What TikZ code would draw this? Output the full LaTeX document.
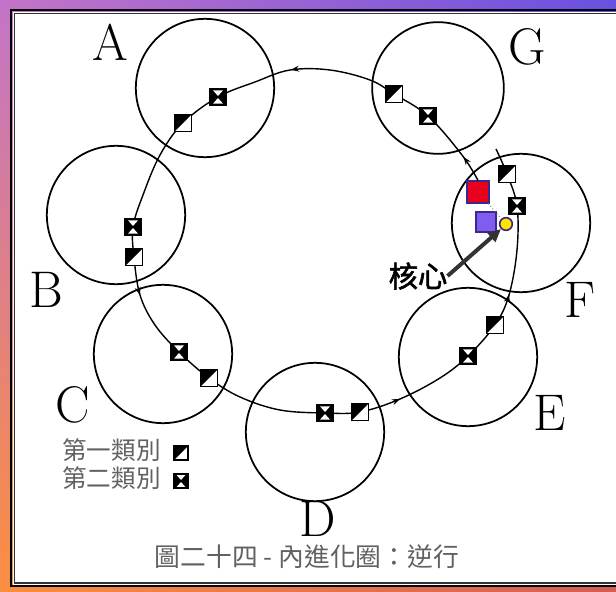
\documentclass[tikz,border=0pt]{standalone}
\usepackage{fontspec}
\newfontfamily\cjk[AutoFakeBold=2]{Noto Sans CJK TC}
\usetikzlibrary{arrows.meta, positioning, calc, decorations.markings, shadings}

\definecolor{bgul}{RGB}{196,116,200}
\definecolor{bgur}{RGB}{104,80,226}
\definecolor{bgll}{RGB}{252,142,64}
\definecolor{bglr}{RGB}{214,92,84}
\definecolor{corered}{RGB}{232,0,28}
\definecolor{coreblue}{RGB}{128,92,240}
\definecolor{coreyellow}{RGB}{255,230,0}
\definecolor{coreedge}{RGB}{60,40,140}

\tikzset{
  ring/.style={circle, draw, line width=1.5pt, minimum size=4.15cm, inner sep=0pt},
  letter/.style={font=\fontsize{44}{44}\selectfont, inner sep=0pt},
  sq/.style={draw, line width=1.3pt, minimum size=0.52cm, inner sep=0pt},
  firstcls/.style={sq, fill=white, path picture={
      \fill[black] (path picture bounding box.north west) -- (path picture bounding box.north east)
        -- (path picture bounding box.south west) -- cycle;}},
  secondcls/.style={sq, fill=black, path picture={
      \fill[white] ([shift={(-0.15cm,0.2cm)}]path picture bounding box.center) -- ++(0.3cm,0) -- ++(-0.15cm,-0.17cm) -- cycle;
      \fill[white] ([shift={(-0.15cm,-0.2cm)}]path picture bounding box.center) -- ++(0.3cm,0) -- ++(-0.15cm,0.17cm) -- cycle;}},
  route/.style={line width=1.2pt},
  looptips/.style={postaction={decorate}, decoration={markings,
      mark=at position 0.024 with {\arrow{Stealth[length=7pt,width=5pt]}},
      mark=at position 0.2 with {\arrow{Stealth[length=7pt,width=5pt]}},
      mark=at position 0.466 with {\arrow{Stealth[length=7pt,width=5pt]}},
      mark=at position 0.735 with {\arrow{Stealth[length=7pt,width=5pt]}},
      mark=at position 0.87 with {\arrow{Stealth[length=7pt,width=5pt]}}}},
  cjktext/.style={font=\cjk\fontsize{21}{21}\selectfont, text=black!62, inner sep=0pt}
}

\begin{document}
\begin{tikzpicture}[x=0.03cm, y=-0.03cm]
  \useasboundingbox (0,0) rectangle (616,592);
  % background and frame
  \shade[upper left=bgul, upper right=bgur, lower left=bgll, lower right=bglr] (0,0) rectangle (616,592);
  \fill[white] (13,12) rectangle (616,585);
  \draw[line width=1.8pt] (616,10) -- (11,10) -- (11,586) -- (616,586);
  \draw[line width=1pt, black!80] (616,13.5) -- (14.5,13.5) -- (14.5,583) -- (616,583);

  % the seven circles
  \node[ring] (ringA) at (205,88) {};
  \node[ring, minimum size=3.95cm] (ringG) at (438,88) {};
  \node[ring] (ringB) at (116,215) {};
  \node[ring] (ringF) at (521,223) {};
  \node[ring] (ringC) at (163,354) {};
  \node[ring] (ringE) at (468,357) {};
  \node[ring] (ringD) at (315,432) {};

  \node[letter] (labA) at (110,42) {A};
  \node[letter] (labG) at (527,47) {G};
  \node[letter] (labB) at (46,290) {B};
  \node[letter] (labF) at (580,300) {F};
  \node[letter] (labC) at (73,405) {C};
  \node[letter] (labE) at (550,413) {E};
  \node[letter] (labD) at (318,519) {D};

  % core
  \node[draw=coreedge, fill=corered, line width=1.6pt, minimum size=0.64cm, inner sep=0pt] (red) at (478,192) {};
  \node[draw=coreedge, fill=coreblue, line width=1.6pt, minimum size=0.6cm, inner sep=0pt] (blue) at (486,222) {};
  \node[circle, draw=coreedge, fill=coreyellow, line width=1.4pt, minimum size=0.38cm, inner sep=0pt] (dot) at (506,224) {};

  % route
  \coordinate (g2) at (428,116);  \coordinate (g1) at (394,94);
  \coordinate (a2) at (218,97);   \coordinate (a1) at (183,123);
  \coordinate (b2) at (133,227);  \coordinate (b1) at (134,257);
  \coordinate (c2) at (179,352);  \coordinate (c1) at (209,378);
  \coordinate (d2) at (325,413);  \coordinate (d1) at (360,412);
  \coordinate (e2) at (468,356);  \coordinate (e1) at (495,325);
  \coordinate (f2) at (517,206);  \coordinate (f1) at (507,174);
  \coordinate (fend) at (496,149);
  \draw[route, looptips] plot[smooth, tension=0.6] coordinates {
    (red.north) (462,155) (g2) (g1) (370,80) (330,70) (290,70) (255,82) (a2) (a1)
    (160,155) (143,195) (b2) (b1) (140,295) (155,325) (c2) (c1)
    (240,397) (280,410) (d2) (d1) (400,399) (440,378) (e2) (e1)
    (509,295) (517,250) (f2) (f1) (fend)};

  \node[firstcls] (sqa1) at (a1) {};   \node[secondcls] (sqa2) at (a2) {};
  \node[firstcls] (sqg1) at (g1) {};   \node[secondcls] (sqg2) at (g2) {};
  \node[firstcls] (sqb1) at (b1) {};   \node[secondcls] (sqb2) at (b2) {};
  \node[firstcls] (sqc1) at (c1) {};   \node[secondcls] (sqc2) at (c2) {};
  \node[firstcls] (sqd1) at (d1) {};   \node[secondcls] (sqd2) at (d2) {};
  \node[firstcls] (sqe1) at (e1) {};   \node[secondcls] (sqe2) at (e2) {};
  \node[firstcls] (sqf1) at (f1) {};   \node[secondcls] (sqf2) at (f2) {};

  \draw[dotted, line width=0.8pt, black!50] (red) -- (dot);

  \node[font=\cjk\bfseries\fontsize{25}{25}\selectfont, inner sep=0pt] (core) at (418,276) {核心};
  \draw[line width=3.4pt, black!80, -{Triangle[length=11pt,width=10pt]}] (core.east) -- (dot.south west);

  % legend
  \node[cjktext, anchor=west] (leg1) at (62,450) {第一類別};
  \node[cjktext, anchor=west] (leg2) at (62,478) {第二類別};
  \node[firstcls, minimum size=0.42cm, line width=1pt] (legsq1) at (181,453) {};
  \node[secondcls, minimum size=0.42cm, line width=1pt] (legsq2) at (181,481) {};

  \node[cjktext, font=\cjk\fontsize{22}{22}\selectfont] (caption) at (307,557) {圖二十四 - 內進化圈：逆行};
\end{tikzpicture}
\end{document}
